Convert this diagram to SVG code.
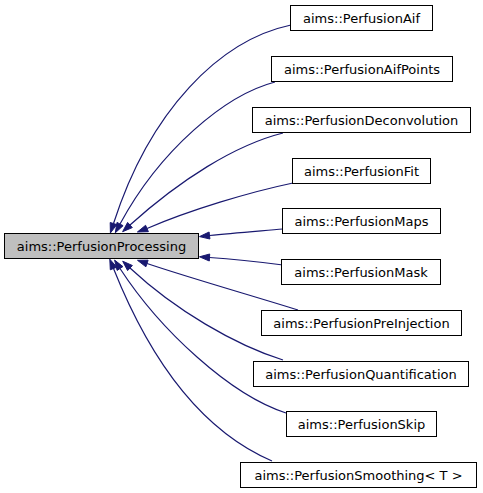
<svg xmlns="http://www.w3.org/2000/svg" width="483" height="493" viewBox="0 0 483 493">
<style>
.box{fill:#ffffff;stroke:#000000;stroke-width:1}
.main{fill:#bfbfbf;stroke:#000000;stroke-width:1}
.lbl{font-family:"DejaVu Sans",sans-serif;font-size:13px;fill:#000000;text-anchor:middle}
.edge path{fill:none;stroke:#191970;stroke-width:1.2}
.edge polygon{fill:#191970;stroke:#191970;stroke-width:1}
</style>
<rect width="483" height="493" fill="#ffffff"/>
<g id="edges" class="edge">
<path d="M291,25 C220,40 150,110 113.5,223.5"/>
<polygon points="116.8,224.6 110.4,233 110.2,222.5"/>
<path d="M275,82 C225,95 160,150 120,224"/>
<polygon points="123.1,225.7 115.3,232.8 117,222.4"/>
<path d="M283,133 C235,145 180,180 130,225"/>
<polygon points="132.3,227.6 122.6,231.7 127.6,222.4"/>
<path d="M293,183 C250,192 190,210 147,228.5"/>
<polygon points="148.4,231.7 137.4,232 145.6,225.3"/>
<path d="M283,229 C260,231 232,233 209.5,235.5"/>
<polygon points="209.9,239 199.5,236.6 209.1,232"/>
<path d="M283,265 C260,262 232,259 209.5,257.5"/>
<polygon points="209.3,261 199.5,256.8 209.7,254"/>
<path d="M298,310 C250,295 190,278 147,263.5"/>
<polygon points="145.9,266.8 137.5,260.3 148.1,260.2"/>
<path d="M283,360 C235,345 175,310 130,268"/>
<polygon points="127.6,270.6 122.7,261.2 132.4,265.5"/>
<path d="M286,413 C230,395 160,330 120,268.5"/>
<polygon points="117.1,270.4 114.6,260.1 122.9,266.6"/>
<path d="M272,461 C200,430 150,360 113.5,268.5"/>
<polygon points="110.3,269.8 109.8,259.2 116.8,267.2"/>
</g>
<g id="node-main">
<rect class="main" x="4.5" y="233.5" width="194" height="25"/>
<text class="lbl" x="101.5" y="250.5">aims::PerfusionProcessing</text>
</g>
<g id="node-aif">
<rect class="box" x="290.5" y="5.5" width="142" height="25"/>
<text class="lbl" x="361.5" y="22.5">aims::PerfusionAif</text>
</g>
<g id="node-aifpoints">
<rect class="box" x="271.5" y="56.5" width="181" height="25"/>
<text class="lbl" x="362" y="73.5">aims::PerfusionAifPoints</text>
</g>
<g id="node-deconvolution">
<rect class="box" x="252.5" y="107.5" width="218" height="25"/>
<text class="lbl" x="361.5" y="124.5">aims::PerfusionDeconvolution</text>
</g>
<g id="node-fit">
<rect class="box" x="292.5" y="158.5" width="138" height="25"/>
<text class="lbl" x="361.5" y="175.5">aims::PerfusionFit</text>
</g>
<g id="node-maps">
<rect class="box" x="282.5" y="208.5" width="158" height="25"/>
<text class="lbl" x="361.5" y="225.5">aims::PerfusionMaps</text>
</g>
<g id="node-mask">
<rect class="box" x="281.5" y="259.5" width="159" height="25"/>
<text class="lbl" x="361" y="276.5">aims::PerfusionMask</text>
</g>
<g id="node-preinjection">
<rect class="box" x="261.5" y="310.5" width="200" height="25"/>
<text class="lbl" x="361.5" y="327.5">aims::PerfusionPreInjection</text>
</g>
<g id="node-quantification">
<rect class="box" x="253.5" y="361.5" width="215" height="25"/>
<text class="lbl" x="361" y="378.5">aims::PerfusionQuantification</text>
</g>
<g id="node-skip">
<rect class="box" x="286.5" y="411.5" width="150" height="25"/>
<text class="lbl" x="361.5" y="428.5">aims::PerfusionSkip</text>
</g>
<g id="node-smoothing">
<rect class="box" x="240.5" y="462.5" width="236" height="25"/>
<text class="lbl" x="358.5" y="479.5">aims::PerfusionSmoothing&lt; T &gt;</text>
</g>
</svg>
